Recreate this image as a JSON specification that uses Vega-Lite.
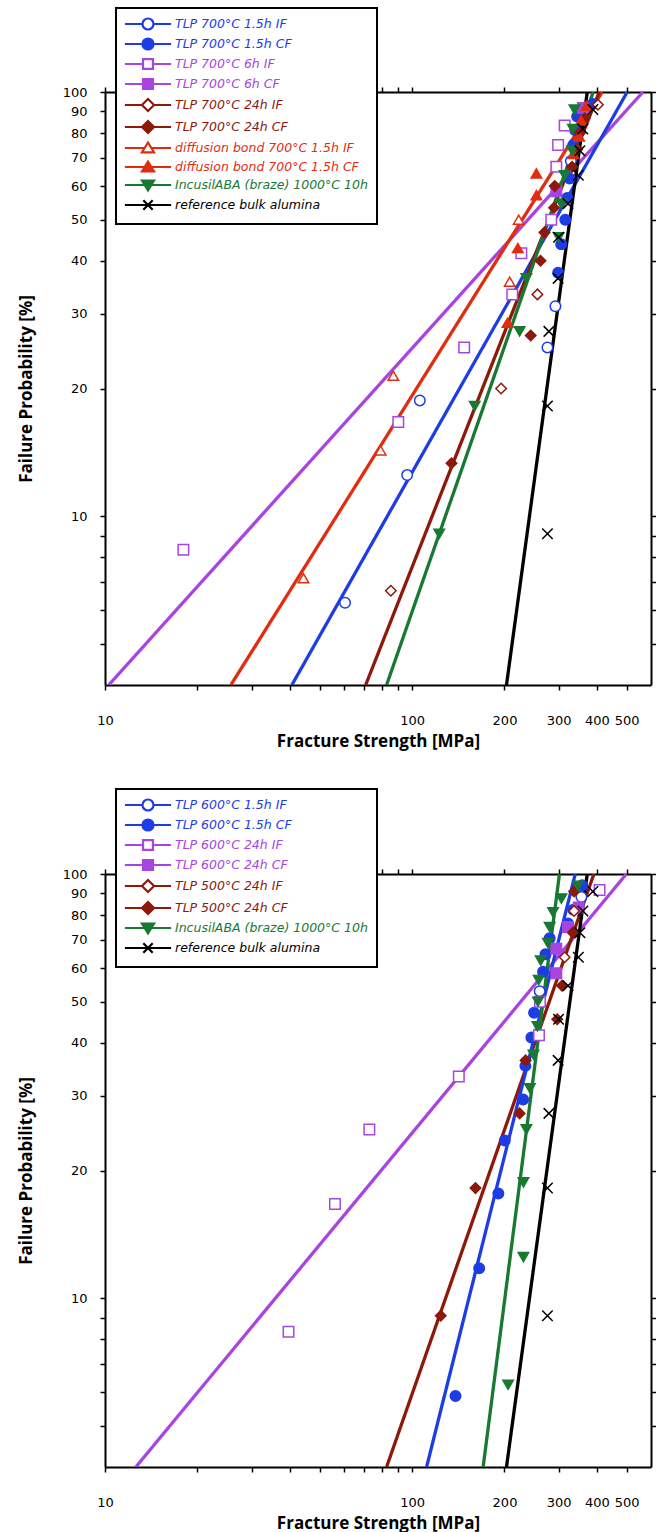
{
  "$schema": "https://vega.github.io/schema/vega-lite/v6.json",
  "padding": {"left": 17, "top": 7, "right": 4, "bottom": 4},
  "spacing": 39,
  "config": {
    "view": {"stroke": null},
    "axis": {"domainColor": "black", "domainWidth": 2, "tickColor": "black", "tickWidth": 1.5, "labelColor": "black", "labelFont": "DejaVu Sans", "labelFontSize": 13, "titleFont": "Open Sans", "titleFontSize": 17, "titleFontWeight": "bold", "titleColor": "black", "grid": false, "labelFlush": false, "labelOverlap": false},
    "legend": {"title": null, "orient": "none", "legendX": 11, "padding": 9, "rowPadding": 0, "symbolSize": 121, "symbolOffset": 16, "labelOffset": 20, "labelFont": "DejaVu Sans", "labelFontSize": 12.5, "labelFontStyle": "italic", "labelLimit": 400, "strokeColor": "black", "fillColor": "white", "symbolStrokeWidth": 2.2, "symbolOpacity": 1}
  },
  "datasets": {
    "linesTop": [
      {"series": "TLP 700°C 6h IF", "s": 10.28, "F": 4}, {"series": "TLP 700°C 6h IF", "s": 565, "F": 100},
      {"series": "diffusion bond 700°C 1.5h IF", "s": 25.7, "F": 4}, {"series": "diffusion bond 700°C 1.5h IF", "s": 416, "F": 100},
      {"series": "TLP 700°C 1.5h IF", "s": 40.6, "F": 4}, {"series": "TLP 700°C 1.5h IF", "s": 502, "F": 100},
      {"series": "TLP 700°C 24h IF", "s": 70.6, "F": 4}, {"series": "TLP 700°C 24h IF", "s": 407, "F": 100},
      {"series": "IncusilABA (braze) 1000°C 10h", "s": 82.6, "F": 4}, {"series": "IncusilABA (braze) 1000°C 10h", "s": 389, "F": 100},
      {"series": "reference bulk alumina", "s": 203, "F": 4}, {"series": "reference bulk alumina", "s": 372, "F": 100}
    ],
    "ptsTop": [
      {"series": "TLP 700°C 1.5h IF", "s": 60.5, "F": 6.25}, {"series": "TLP 700°C 1.5h IF", "s": 96.4, "F": 12.5}, {"series": "TLP 700°C 1.5h IF", "s": 106, "F": 18.75}, {"series": "TLP 700°C 1.5h IF", "s": 276, "F": 25}, {"series": "TLP 700°C 1.5h IF", "s": 293, "F": 31.25}, {"series": "TLP 700°C 1.5h IF", "s": 329, "F": 68.75},
      {"series": "TLP 700°C 1.5h CF", "s": 299, "F": 37.5}, {"series": "TLP 700°C 1.5h CF", "s": 306, "F": 43.75}, {"series": "TLP 700°C 1.5h CF", "s": 315.5, "F": 50}, {"series": "TLP 700°C 1.5h CF", "s": 320, "F": 56.25}, {"series": "TLP 700°C 1.5h CF", "s": 326, "F": 62.5}, {"series": "TLP 700°C 1.5h CF", "s": 335, "F": 75}, {"series": "TLP 700°C 1.5h CF", "s": 340, "F": 81.25}, {"series": "TLP 700°C 1.5h CF", "s": 345, "F": 87.5}, {"series": "TLP 700°C 1.5h CF", "s": 388, "F": 93.75},
      {"series": "TLP 700°C 6h IF", "s": 18, "F": 8.33}, {"series": "TLP 700°C 6h IF", "s": 90.2, "F": 16.67}, {"series": "TLP 700°C 6h IF", "s": 147.8, "F": 25}, {"series": "TLP 700°C 6h IF", "s": 212, "F": 33.33}, {"series": "TLP 700°C 6h IF", "s": 227, "F": 41.67}, {"series": "TLP 700°C 6h IF", "s": 284, "F": 50}, {"series": "TLP 700°C 6h IF", "s": 295, "F": 66.67}, {"series": "TLP 700°C 6h IF", "s": 299, "F": 75}, {"series": "TLP 700°C 6h IF", "s": 314, "F": 83.33},
      {"series": "TLP 700°C 6h CF", "s": 295, "F": 58.33}, {"series": "TLP 700°C 6h CF", "s": 360, "F": 91.67},
      {"series": "TLP 700°C 24h IF", "s": 85.3, "F": 6.67}, {"series": "TLP 700°C 24h IF", "s": 195, "F": 20}, {"series": "TLP 700°C 24h IF", "s": 256, "F": 33.33}, {"series": "TLP 700°C 24h IF", "s": 403, "F": 93.33},
      {"series": "TLP 700°C 24h CF", "s": 134.4, "F": 13.33}, {"series": "TLP 700°C 24h CF", "s": 243.5, "F": 26.67}, {"series": "TLP 700°C 24h CF", "s": 262, "F": 40}, {"series": "TLP 700°C 24h CF", "s": 270, "F": 46.67}, {"series": "TLP 700°C 24h CF", "s": 290, "F": 53.33}, {"series": "TLP 700°C 24h CF", "s": 291.5, "F": 60}, {"series": "TLP 700°C 24h CF", "s": 332, "F": 66.67}, {"series": "TLP 700°C 24h CF", "s": 345, "F": 73.33}, {"series": "TLP 700°C 24h CF", "s": 352, "F": 80}, {"series": "TLP 700°C 24h CF", "s": 365, "F": 86.67},
      {"series": "diffusion bond 700°C 1.5h IF", "s": 44.3, "F": 7.14}, {"series": "diffusion bond 700°C 1.5h IF", "s": 79, "F": 14.29}, {"series": "diffusion bond 700°C 1.5h IF", "s": 86.9, "F": 21.43}, {"series": "diffusion bond 700°C 1.5h IF", "s": 208, "F": 35.71}, {"series": "diffusion bond 700°C 1.5h IF", "s": 222.5, "F": 50},
      {"series": "diffusion bond 700°C 1.5h CF", "s": 204.5, "F": 28.57}, {"series": "diffusion bond 700°C 1.5h CF", "s": 221, "F": 42.86}, {"series": "diffusion bond 700°C 1.5h CF", "s": 254, "F": 57.14}, {"series": "diffusion bond 700°C 1.5h CF", "s": 254, "F": 64.29}, {"series": "diffusion bond 700°C 1.5h CF", "s": 335, "F": 71.43}, {"series": "diffusion bond 700°C 1.5h CF", "s": 350, "F": 78.57}, {"series": "diffusion bond 700°C 1.5h CF", "s": 355, "F": 85.71}, {"series": "diffusion bond 700°C 1.5h CF", "s": 370, "F": 92.86},
      {"series": "IncusilABA (braze) 1000°C 10h", "s": 122.6, "F": 9.09}, {"series": "IncusilABA (braze) 1000°C 10h", "s": 160, "F": 18.18}, {"series": "IncusilABA (braze) 1000°C 10h", "s": 224, "F": 27.27}, {"series": "IncusilABA (braze) 1000°C 10h", "s": 235.7, "F": 36.36}, {"series": "IncusilABA (braze) 1000°C 10h", "s": 300, "F": 45.45}, {"series": "IncusilABA (braze) 1000°C 10h", "s": 306, "F": 54.55}, {"series": "IncusilABA (braze) 1000°C 10h", "s": 314, "F": 63.64}, {"series": "IncusilABA (braze) 1000°C 10h", "s": 332, "F": 72.73}, {"series": "IncusilABA (braze) 1000°C 10h", "s": 334, "F": 81.82}, {"series": "IncusilABA (braze) 1000°C 10h", "s": 338, "F": 90.91},
      {"series": "reference bulk alumina", "s": 276, "F": 9.09}, {"series": "reference bulk alumina", "s": 276, "F": 18.18}, {"series": "reference bulk alumina", "s": 279, "F": 27.27}, {"series": "reference bulk alumina", "s": 299, "F": 36.36}, {"series": "reference bulk alumina", "s": 300, "F": 45.45}, {"series": "reference bulk alumina", "s": 322, "F": 54.55}, {"series": "reference bulk alumina", "s": 348, "F": 63.64}, {"series": "reference bulk alumina", "s": 352, "F": 72.73}, {"series": "reference bulk alumina", "s": 360, "F": 81.82}, {"series": "reference bulk alumina", "s": 388, "F": 90.91}
    ],
    "linesBot": [
      {"series": "TLP 600°C 24h IF", "s": 12.6, "F": 4}, {"series": "TLP 600°C 24h IF", "s": 498.8, "F": 100},
      {"series": "TLP 500°C 24h IF", "s": 82.6, "F": 4}, {"series": "TLP 500°C 24h IF", "s": 391, "F": 100},
      {"series": "TLP 600°C 1.5h IF", "s": 111.5, "F": 4}, {"series": "TLP 600°C 1.5h IF", "s": 340, "F": 100},
      {"series": "IncusilABA (braze) 1000°C 10h", "s": 170.4, "F": 4}, {"series": "IncusilABA (braze) 1000°C 10h", "s": 302, "F": 100},
      {"series": "reference bulk alumina", "s": 203, "F": 4}, {"series": "reference bulk alumina", "s": 372, "F": 100}
    ],
    "ptsBot": [
      {"series": "TLP 600°C 1.5h IF", "s": 260.4, "F": 52.94}, {"series": "TLP 600°C 1.5h IF", "s": 356, "F": 88.24},
      {"series": "TLP 600°C 1.5h CF", "s": 138.5, "F": 5.88}, {"series": "TLP 600°C 1.5h CF", "s": 165.4, "F": 11.76}, {"series": "TLP 600°C 1.5h CF", "s": 191, "F": 17.65}, {"series": "TLP 600°C 1.5h CF", "s": 200.4, "F": 23.53}, {"series": "TLP 600°C 1.5h CF", "s": 230, "F": 29.41}, {"series": "TLP 600°C 1.5h CF", "s": 234, "F": 35.29}, {"series": "TLP 600°C 1.5h CF", "s": 244.7, "F": 41.18}, {"series": "TLP 600°C 1.5h CF", "s": 249.7, "F": 47.06}, {"series": "TLP 600°C 1.5h CF", "s": 267.1, "F": 58.82}, {"series": "TLP 600°C 1.5h CF", "s": 272, "F": 64.71}, {"series": "TLP 600°C 1.5h CF", "s": 280.6, "F": 70.59}, {"series": "TLP 600°C 1.5h CF", "s": 322, "F": 76.47}, {"series": "TLP 600°C 1.5h CF", "s": 335, "F": 82.35}, {"series": "TLP 600°C 1.5h CF", "s": 358, "F": 94.12},
      {"series": "TLP 600°C 24h IF", "s": 39.6, "F": 8.33}, {"series": "TLP 600°C 24h IF", "s": 56.1, "F": 16.67}, {"series": "TLP 600°C 24h IF", "s": 72.6, "F": 25}, {"series": "TLP 600°C 24h IF", "s": 142, "F": 33.33}, {"series": "TLP 600°C 24h IF", "s": 259, "F": 41.67}, {"series": "TLP 600°C 24h IF", "s": 261, "F": 50}, {"series": "TLP 600°C 24h IF", "s": 408, "F": 91.67},
      {"series": "TLP 600°C 24h CF", "s": 295, "F": 58.33}, {"series": "TLP 600°C 24h CF", "s": 295, "F": 66.67}, {"series": "TLP 600°C 24h CF", "s": 322, "F": 75}, {"series": "TLP 600°C 24h CF", "s": 349, "F": 83.33},
      {"series": "TLP 500°C 24h IF", "s": 314, "F": 63.64}, {"series": "TLP 500°C 24h IF", "s": 337, "F": 81.82},
      {"series": "TLP 500°C 24h CF", "s": 124, "F": 9.09}, {"series": "TLP 500°C 24h CF", "s": 160.9, "F": 18.18}, {"series": "TLP 500°C 24h CF", "s": 224, "F": 27.27}, {"series": "TLP 500°C 24h CF", "s": 234.4, "F": 36.36}, {"series": "TLP 500°C 24h CF", "s": 297, "F": 45.45}, {"series": "TLP 500°C 24h CF", "s": 308, "F": 54.55}, {"series": "TLP 500°C 24h CF", "s": 334, "F": 72.73}, {"series": "TLP 500°C 24h CF", "s": 337, "F": 90.91},
      {"series": "IncusilABA (braze) 1000°C 10h", "s": 205.5, "F": 6.25}, {"series": "IncusilABA (braze) 1000°C 10h", "s": 230.5, "F": 12.5}, {"series": "IncusilABA (braze) 1000°C 10h", "s": 230.5, "F": 18.75}, {"series": "IncusilABA (braze) 1000°C 10h", "s": 235.7, "F": 25}, {"series": "IncusilABA (braze) 1000°C 10h", "s": 242, "F": 31.25}, {"series": "IncusilABA (braze) 1000°C 10h", "s": 248.6, "F": 37.5}, {"series": "IncusilABA (braze) 1000°C 10h", "s": 256, "F": 43.75}, {"series": "IncusilABA (braze) 1000°C 10h", "s": 257, "F": 50}, {"series": "IncusilABA (braze) 1000°C 10h", "s": 258.5, "F": 56.25}, {"series": "IncusilABA (braze) 1000°C 10h", "s": 262.4, "F": 62.5}, {"series": "IncusilABA (braze) 1000°C 10h", "s": 277, "F": 68.75}, {"series": "IncusilABA (braze) 1000°C 10h", "s": 280.6, "F": 75}, {"series": "IncusilABA (braze) 1000°C 10h", "s": 287.8, "F": 81.25}, {"series": "IncusilABA (braze) 1000°C 10h", "s": 306.4, "F": 87.5}, {"series": "IncusilABA (braze) 1000°C 10h", "s": 347, "F": 93.75},
      {"series": "reference bulk alumina", "s": 276, "F": 9.09}, {"series": "reference bulk alumina", "s": 276, "F": 18.18}, {"series": "reference bulk alumina", "s": 279, "F": 27.27}, {"series": "reference bulk alumina", "s": 299, "F": 36.36}, {"series": "reference bulk alumina", "s": 300, "F": 45.45}, {"series": "reference bulk alumina", "s": 322, "F": 54.55}, {"series": "reference bulk alumina", "s": 348, "F": 63.64}, {"series": "reference bulk alumina", "s": 352, "F": 72.73}, {"series": "reference bulk alumina", "s": 360, "F": 81.82}, {"series": "reference bulk alumina", "s": 388, "F": 90.91}
    ]
  },
  "vconcat": [
    {
      "width": 546, "height": 593,
      "layer": [
        {
          "data": {"name": "linesTop"},
          "mark": {"type": "line", "strokeWidth": 3.3, "clip": true},
          "encoding": {
            "x": {"field": "s", "type": "quantitative", "scale": {"type": "log", "domain": [10, 600], "nice": false},
              "axis": {"orient": "bottom", "values": [10,20,30,40,50,60,70,80,90,100,200,300,400,500], "labelExpr": "indexof([10,100,200,300,400,500], datum.value) >= 0 ? datum.value + '' : ''", "title": "Fracture Strength [MPa]", "tickSize": 5, "labelPadding": 24, "titlePadding": 6, "encode": {"ticks": {"update": {"y2": {"signal": "datum.value == 10 || datum.value == 100 ? -9 : -5"}}}}}},
            "y": {"field": "F", "type": "quantitative", "scale": {"type": "log", "domain": [4, 100], "nice": false},
              "axis": {"orient": "left", "values": [5,6,7,8,9,10,20,30,40,50,60,70,80,90,100], "labelExpr": "datum.value >= 10 ? datum.value + '' : ''", "title": "Failure Probability [%]", "tickSize": 5, "labelPadding": 13, "titlePadding": 27, "encode": {"ticks": {"update": {"x2": {"signal": "datum.value == 10 || datum.value == 100 ? 9 : 5"}}}}}},
            "stroke": {"field": "series", "type": "nominal", "legend": null,
              "scale": {"domain": ["TLP 700°C 1.5h IF","TLP 700°C 1.5h CF","TLP 700°C 6h IF","TLP 700°C 6h CF","TLP 700°C 24h IF","TLP 700°C 24h CF","diffusion bond 700°C 1.5h IF","diffusion bond 700°C 1.5h CF","IncusilABA (braze) 1000°C 10h","reference bulk alumina"], "range": ["#1e3ce6","#1e3ce6","#a845e0","#a845e0","#8c190a","#8c190a","#e12d0f","#e12d0f","#197832","#000000"]}}
          }
        },
        {
          "data": {"name": "ptsTop"},
          "mark": {"type": "point", "filled": true, "size": 110, "strokeWidth": 1.5, "opacity": 1},
          "encoding": {
            "x": {"field": "s", "type": "quantitative", "scale": {"type": "log", "domain": [10, 600], "nice": false},
              "axis": {"orient": "top", "values": [10,20,30,40,50,60,70,80,90,100,200,300,400,500], "labels": false, "title": null, "tickSize": 5, "encode": {"ticks": {"update": {"y2": {"signal": "datum.value == 10 || datum.value == 100 ? 9 : 5"}}}}}},
            "y": {"field": "F", "type": "quantitative", "scale": {"type": "log", "domain": [4, 100], "nice": false},
              "axis": {"orient": "right", "values": [5,6,7,8,9,10,20,30,40,50,60,70,80,90,100], "labels": false, "title": null, "tickSize": 5, "encode": {"ticks": {"update": {"x2": {"signal": "datum.value == 10 || datum.value == 100 ? -9 : -5"}}}}}},
            "stroke": {"field": "series", "type": "nominal", "legend": null,
              "scale": {"domain": ["TLP 700°C 1.5h IF","TLP 700°C 1.5h CF","TLP 700°C 6h IF","TLP 700°C 6h CF","TLP 700°C 24h IF","TLP 700°C 24h CF","diffusion bond 700°C 1.5h IF","diffusion bond 700°C 1.5h CF","IncusilABA (braze) 1000°C 10h","reference bulk alumina"], "range": ["#1e3ce6","#1e3ce6","#a845e0","#a845e0","#8c190a","#8c190a","#e12d0f","#e12d0f","#197832","#000000"]}},
            "fill": {"field": "series", "type": "nominal", "legend": null,
              "scale": {"domain": ["TLP 700°C 1.5h IF","TLP 700°C 1.5h CF","TLP 700°C 6h IF","TLP 700°C 6h CF","TLP 700°C 24h IF","TLP 700°C 24h CF","diffusion bond 700°C 1.5h IF","diffusion bond 700°C 1.5h CF","IncusilABA (braze) 1000°C 10h","reference bulk alumina"], "range": ["white","#1e3ce6","white","#a845e0","white","#8c190a","white","#e12d0f","#197832","transparent"]}},
            "shape": {"field": "series", "type": "nominal", "legend": null,
              "scale": {"domain": ["TLP 700°C 1.5h IF","TLP 700°C 1.5h CF","TLP 700°C 6h IF","TLP 700°C 6h CF","TLP 700°C 24h IF","TLP 700°C 24h CF","diffusion bond 700°C 1.5h IF","diffusion bond 700°C 1.5h CF","IncusilABA (braze) 1000°C 10h","reference bulk alumina"], "range": ["circle","circle","square","square","diamond","diamond","triangle-up","triangle-up","triangle-down","M-1,-1L1,1M-1,1L1,-1"]}}
          }
        },
        {
          "data": {"name": "ptsTop"},
          "transform": [{"filter": "datum.F > 1000"}],
          "mark": {"type": "point", "filled": true, "strokeWidth": 2.2, "opacity": 1},
          "encoding": {
            "stroke": {"field": "series", "type": "nominal",
              "scale": {"domain": ["TLP 700°C 1.5h IF","TLP 700°C 1.5h CF","TLP 700°C 6h IF","TLP 700°C 6h CF","TLP 700°C 24h IF","TLP 700°C 24h CF","diffusion bond 700°C 1.5h IF","diffusion bond 700°C 1.5h CF","IncusilABA (braze) 1000°C 10h","reference bulk alumina"], "range": ["#1e3ce6","#1e3ce6","#a845e0","#a845e0","#8c190a","#8c190a","#e12d0f","#e12d0f","#197832","#000000"]},
              "legend": {"legendY": -84, "encode": {"labels": {"update": {"fill": {"signal": "['#1e3ce6','#1e3ce6','#a845e0','#a845e0','#8c190a','#8c190a','#e12d0f','#e12d0f','#197832','#000000'][indexof(['TLP 700°C 1.5h IF','TLP 700°C 1.5h CF','TLP 700°C 6h IF','TLP 700°C 6h CF','TLP 700°C 24h IF','TLP 700°C 24h CF','diffusion bond 700°C 1.5h IF','diffusion bond 700°C 1.5h CF','IncusilABA (braze) 1000°C 10h','reference bulk alumina'], datum.value)]"}}}, "legend": {"update": {"strokeWidth": {"value": 2}}}}}},
            "fill": {"field": "series", "type": "nominal",
              "scale": {"domain": ["TLP 700°C 1.5h IF","TLP 700°C 1.5h CF","TLP 700°C 6h IF","TLP 700°C 6h CF","TLP 700°C 24h IF","TLP 700°C 24h CF","diffusion bond 700°C 1.5h IF","diffusion bond 700°C 1.5h CF","IncusilABA (braze) 1000°C 10h","reference bulk alumina"], "range": ["white","#1e3ce6","white","#a845e0","white","#8c190a","white","#e12d0f","#197832","transparent"]},
              "legend": {"legendY": -84, "encode": {"labels": {"update": {"fill": {"signal": "['#1e3ce6','#1e3ce6','#a845e0','#a845e0','#8c190a','#8c190a','#e12d0f','#e12d0f','#197832','#000000'][indexof(['TLP 700°C 1.5h IF','TLP 700°C 1.5h CF','TLP 700°C 6h IF','TLP 700°C 6h CF','TLP 700°C 24h IF','TLP 700°C 24h CF','diffusion bond 700°C 1.5h IF','diffusion bond 700°C 1.5h CF','IncusilABA (braze) 1000°C 10h','reference bulk alumina'], datum.value)]"}}}, "legend": {"update": {"strokeWidth": {"value": 2}}}}}},
            "shape": {"field": "series", "type": "nominal",
              "scale": {"domain": ["TLP 700°C 1.5h IF","TLP 700°C 1.5h CF","TLP 700°C 6h IF","TLP 700°C 6h CF","TLP 700°C 24h IF","TLP 700°C 24h CF","diffusion bond 700°C 1.5h IF","diffusion bond 700°C 1.5h CF","IncusilABA (braze) 1000°C 10h","reference bulk alumina"], "range": ["M-4.2,0H-1M1,0H4.2M1,0A1,1,0,1,1,-1,0A1,1,0,1,1,1,0Z","M-4.2,0H-1M1,0H4.2M1,0A1,1,0,1,1,-1,0A1,1,0,1,1,1,0Z","M-4.2,0H-0.9M0.9,0H4.2M-0.9,-0.9H0.9V0.9H-0.9Z","M-4.2,0H-0.9M0.9,0H4.2M-0.9,-0.9H0.9V0.9H-0.9Z","M-4.2,0H-1.1M1.1,0H4.2M0,-1.1L1.1,0L0,1.1L-1.1,0Z","M-4.2,0H-1.1M1.1,0H4.2M0,-1.1L1.1,0L0,1.1L-1.1,0Z","M-4.2,0H-0.6M0.6,0H4.2M0,-1L1.1,0.8H-1.1Z","M-4.2,0H-0.6M0.6,0H4.2M0,-1L1.1,0.8H-1.1Z","M-4.2,0H-0.6M0.6,0H4.2M0,1L1.1,-0.8H-1.1Z","M-4.2,0H4.2M-0.85,-0.85L0.85,0.85M-0.85,0.85L0.85,-0.85"]},
              "legend": {"legendY": -84, "encode": {"labels": {"update": {"fill": {"signal": "['#1e3ce6','#1e3ce6','#a845e0','#a845e0','#8c190a','#8c190a','#e12d0f','#e12d0f','#197832','#000000'][indexof(['TLP 700°C 1.5h IF','TLP 700°C 1.5h CF','TLP 700°C 6h IF','TLP 700°C 6h CF','TLP 700°C 24h IF','TLP 700°C 24h CF','diffusion bond 700°C 1.5h IF','diffusion bond 700°C 1.5h CF','IncusilABA (braze) 1000°C 10h','reference bulk alumina'], datum.value)]"}}}, "legend": {"update": {"strokeWidth": {"value": 2}}}}}}
          }
        }
      ],
      "resolve": {"scale": {"shape": "independent", "fill": "independent", "stroke": "independent"}, "axis": {"x": "independent", "y": "independent"}}
    },
    {
      "width": 546, "height": 593,
      "layer": [
        {
          "data": {"name": "linesBot"},
          "mark": {"type": "line", "strokeWidth": 3.3, "clip": true},
          "encoding": {
            "x": {"field": "s", "type": "quantitative", "scale": {"type": "log", "domain": [10, 600], "nice": false},
              "axis": {"orient": "bottom", "values": [10,20,30,40,50,60,70,80,90,100,200,300,400,500], "labelExpr": "indexof([10,100,200,300,400,500], datum.value) >= 0 ? datum.value + '' : ''", "title": "Fracture Strength [MPa]", "tickSize": 5, "labelPadding": 24, "titlePadding": 6, "encode": {"ticks": {"update": {"y2": {"signal": "datum.value == 10 || datum.value == 100 ? -9 : -5"}}}}}},
            "y": {"field": "F", "type": "quantitative", "scale": {"type": "log", "domain": [4, 100], "nice": false},
              "axis": {"orient": "left", "values": [5,6,7,8,9,10,20,30,40,50,60,70,80,90,100], "labelExpr": "datum.value >= 10 ? datum.value + '' : ''", "title": "Failure Probability [%]", "tickSize": 5, "labelPadding": 13, "titlePadding": 27, "encode": {"ticks": {"update": {"x2": {"signal": "datum.value == 10 || datum.value == 100 ? 9 : 5"}}}}}},
            "stroke": {"field": "series", "type": "nominal", "legend": null,
              "scale": {"domain": ["TLP 600°C 1.5h IF","TLP 600°C 1.5h CF","TLP 600°C 24h IF","TLP 600°C 24h CF","TLP 500°C 24h IF","TLP 500°C 24h CF","IncusilABA (braze) 1000°C 10h","reference bulk alumina"], "range": ["#1e3ce6","#1e3ce6","#a845e0","#a845e0","#8c190a","#8c190a","#197832","#000000"]}}
          }
        },
        {
          "data": {"name": "ptsBot"},
          "mark": {"type": "point", "filled": true, "size": 110, "strokeWidth": 1.5, "opacity": 1},
          "encoding": {
            "x": {"field": "s", "type": "quantitative", "scale": {"type": "log", "domain": [10, 600], "nice": false},
              "axis": {"orient": "top", "values": [10,20,30,40,50,60,70,80,90,100,200,300,400,500], "labels": false, "title": null, "tickSize": 5, "encode": {"ticks": {"update": {"y2": {"signal": "datum.value == 10 || datum.value == 100 ? 9 : 5"}}}}}},
            "y": {"field": "F", "type": "quantitative", "scale": {"type": "log", "domain": [4, 100], "nice": false},
              "axis": {"orient": "right", "values": [5,6,7,8,9,10,20,30,40,50,60,70,80,90,100], "labels": false, "title": null, "tickSize": 5, "encode": {"ticks": {"update": {"x2": {"signal": "datum.value == 10 || datum.value == 100 ? -9 : -5"}}}}}},
            "stroke": {"field": "series", "type": "nominal", "legend": null,
              "scale": {"domain": ["TLP 600°C 1.5h IF","TLP 600°C 1.5h CF","TLP 600°C 24h IF","TLP 600°C 24h CF","TLP 500°C 24h IF","TLP 500°C 24h CF","IncusilABA (braze) 1000°C 10h","reference bulk alumina"], "range": ["#1e3ce6","#1e3ce6","#a845e0","#a845e0","#8c190a","#8c190a","#197832","#000000"]}},
            "fill": {"field": "series", "type": "nominal", "legend": null,
              "scale": {"domain": ["TLP 600°C 1.5h IF","TLP 600°C 1.5h CF","TLP 600°C 24h IF","TLP 600°C 24h CF","TLP 500°C 24h IF","TLP 500°C 24h CF","IncusilABA (braze) 1000°C 10h","reference bulk alumina"], "range": ["white","#1e3ce6","white","#a845e0","white","#8c190a","#197832","transparent"]}},
            "shape": {"field": "series", "type": "nominal", "legend": null,
              "scale": {"domain": ["TLP 600°C 1.5h IF","TLP 600°C 1.5h CF","TLP 600°C 24h IF","TLP 600°C 24h CF","TLP 500°C 24h IF","TLP 500°C 24h CF","IncusilABA (braze) 1000°C 10h","reference bulk alumina"], "range": ["circle","circle","square","square","diamond","diamond","triangle-down","M-1,-1L1,1M-1,1L1,-1"]}}
          }
        },
        {
          "data": {"name": "ptsBot"},
          "transform": [{"filter": "datum.F > 1000"}],
          "mark": {"type": "point", "filled": true, "strokeWidth": 2.2, "opacity": 1},
          "encoding": {
            "stroke": {"field": "series", "type": "nominal",
              "scale": {"domain": ["TLP 600°C 1.5h IF","TLP 600°C 1.5h CF","TLP 600°C 24h IF","TLP 600°C 24h CF","TLP 500°C 24h IF","TLP 500°C 24h CF","IncusilABA (braze) 1000°C 10h","reference bulk alumina"], "range": ["#1e3ce6","#1e3ce6","#a845e0","#a845e0","#8c190a","#8c190a","#197832","#000000"]},
              "legend": {"legendY": -85, "encode": {"labels": {"update": {"fill": {"signal": "['#1e3ce6','#1e3ce6','#a845e0','#a845e0','#8c190a','#8c190a','#197832','#000000'][indexof(['TLP 600°C 1.5h IF','TLP 600°C 1.5h CF','TLP 600°C 24h IF','TLP 600°C 24h CF','TLP 500°C 24h IF','TLP 500°C 24h CF','IncusilABA (braze) 1000°C 10h','reference bulk alumina'], datum.value)]"}}}, "legend": {"update": {"strokeWidth": {"value": 2}}}}}},
            "fill": {"field": "series", "type": "nominal",
              "scale": {"domain": ["TLP 600°C 1.5h IF","TLP 600°C 1.5h CF","TLP 600°C 24h IF","TLP 600°C 24h CF","TLP 500°C 24h IF","TLP 500°C 24h CF","IncusilABA (braze) 1000°C 10h","reference bulk alumina"], "range": ["white","#1e3ce6","white","#a845e0","white","#8c190a","#197832","transparent"]},
              "legend": {"legendY": -85, "encode": {"labels": {"update": {"fill": {"signal": "['#1e3ce6','#1e3ce6','#a845e0','#a845e0','#8c190a','#8c190a','#197832','#000000'][indexof(['TLP 600°C 1.5h IF','TLP 600°C 1.5h CF','TLP 600°C 24h IF','TLP 600°C 24h CF','TLP 500°C 24h IF','TLP 500°C 24h CF','IncusilABA (braze) 1000°C 10h','reference bulk alumina'], datum.value)]"}}}, "legend": {"update": {"strokeWidth": {"value": 2}}}}}},
            "shape": {"field": "series", "type": "nominal",
              "scale": {"domain": ["TLP 600°C 1.5h IF","TLP 600°C 1.5h CF","TLP 600°C 24h IF","TLP 600°C 24h CF","TLP 500°C 24h IF","TLP 500°C 24h CF","IncusilABA (braze) 1000°C 10h","reference bulk alumina"], "range": ["M-4.2,0H-1M1,0H4.2M1,0A1,1,0,1,1,-1,0A1,1,0,1,1,1,0Z","M-4.2,0H-1M1,0H4.2M1,0A1,1,0,1,1,-1,0A1,1,0,1,1,1,0Z","M-4.2,0H-0.9M0.9,0H4.2M-0.9,-0.9H0.9V0.9H-0.9Z","M-4.2,0H-0.9M0.9,0H4.2M-0.9,-0.9H0.9V0.9H-0.9Z","M-4.2,0H-1.1M1.1,0H4.2M0,-1.1L1.1,0L0,1.1L-1.1,0Z","M-4.2,0H-1.1M1.1,0H4.2M0,-1.1L1.1,0L0,1.1L-1.1,0Z","M-4.2,0H-0.6M0.6,0H4.2M0,1L1.1,-0.8H-1.1Z","M-4.2,0H4.2M-0.85,-0.85L0.85,0.85M-0.85,0.85L0.85,-0.85"]},
              "legend": {"legendY": -85, "encode": {"labels": {"update": {"fill": {"signal": "['#1e3ce6','#1e3ce6','#a845e0','#a845e0','#8c190a','#8c190a','#197832','#000000'][indexof(['TLP 600°C 1.5h IF','TLP 600°C 1.5h CF','TLP 600°C 24h IF','TLP 600°C 24h CF','TLP 500°C 24h IF','TLP 500°C 24h CF','IncusilABA (braze) 1000°C 10h','reference bulk alumina'], datum.value)]"}}}, "legend": {"update": {"strokeWidth": {"value": 2}}}}}}
          }
        }
      ],
      "resolve": {"scale": {"shape": "independent", "fill": "independent", "stroke": "independent"}, "axis": {"x": "independent", "y": "independent"}}
    }
  ],
  "resolve": {"scale": {"x": "independent", "y": "independent", "stroke": "independent", "fill": "independent", "shape": "independent"}}
}
